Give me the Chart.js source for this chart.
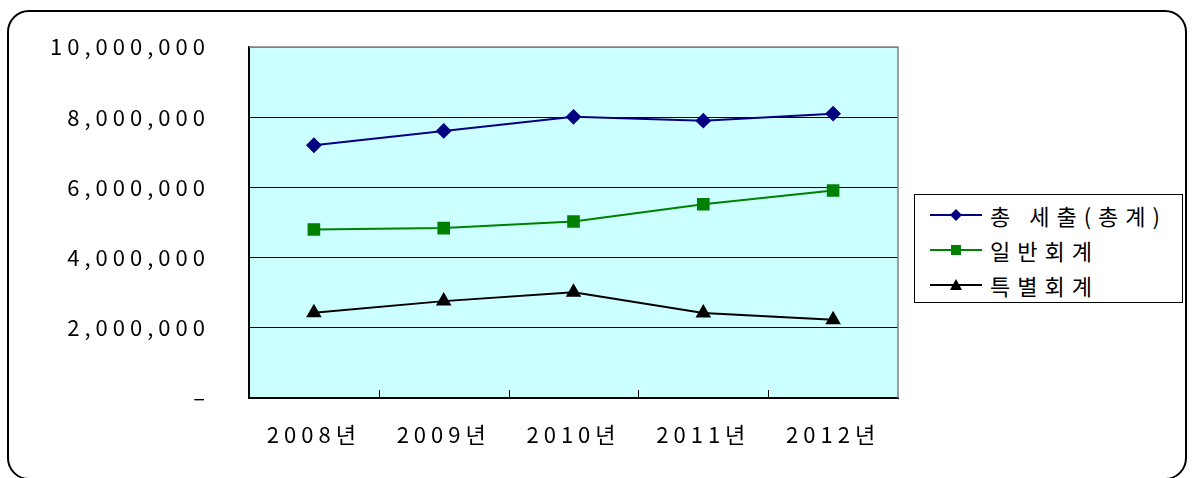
<!DOCTYPE html>
<html>
<head>
<meta charset="utf-8">
<script src="https://cdn.jsdelivr.net/npm/chart.js"></script>
<style>
body{margin:0;background:#fff;}
#wrap{position:relative;width:1195px;height:478px;overflow:hidden;}
#frame{position:absolute;left:7px;top:10px;width:1180px;height:470px;box-sizing:border-box;border:2px solid #000;border-radius:22px;pointer-events:none;}
#legend{position:absolute;left:914px;top:194px;width:269px;height:109px;box-sizing:border-box;border:1px solid #000;background:#fff;padding-top:2.5px;
font-family:"Noto Sans CJK KR",sans-serif;font-size:22px;letter-spacing:7px;color:#000;}
#legend .row{display:flex;align-items:center;height:35px;white-space:nowrap;}
#legend svg{flex-shrink:0;margin-left:15px;margin-right:8px;}
</style>
</head>
<body>
<div id="wrap">
<canvas id="chart" width="1195" height="478"></canvas>
<div id="frame"></div>
<div id="legend"></div>
</div>
<script>
// categories and series (원)
const years = ["2008년","2009년","2010년","2011년","2012년"];
const totalOut = [7200000, 7610000, 8010000, 7900000, 8100000];
const general = [4800000, 4840000, 5030000, 5520000, 5910000];
const special = [2430000, 2760000, 3010000, 2420000, 2230000];
const seriesNames = ["총 세출(총계)","일반회계","특별회계"];

const LS = "5px";
const FONT = '"Noto Sans CJK KR", sans-serif';

// plot background, gray top/right frame, inner category ticks
const plotStyle = {
id:"plotStyle",
beforeLayout(chart){ chart.ctx.letterSpacing = LS; },
beforeDraw(chart){
const {ctx, chartArea:a} = chart;
ctx.letterSpacing = LS;
ctx.save();
ctx.fillStyle = "#ccffff";
ctx.fillRect(a.left, a.top, a.right-a.left, a.bottom-a.top);
ctx.restore();
},
afterDraw(chart){
const {ctx, chartArea:a} = chart;
const xs = chart.scales.x;
ctx.save();
ctx.strokeStyle = "#808080";
ctx.lineWidth = 1.5;
ctx.beginPath();
ctx.moveTo(a.left, a.top); ctx.lineTo(a.right, a.top); ctx.lineTo(a.right, a.bottom);
ctx.stroke();
ctx.strokeStyle = "#000";
ctx.lineWidth = 1;
ctx.beginPath();
for(let i=1;i<years.length;i++){
const x = Math.round((xs.getPixelForTick(i-1)+xs.getPixelForTick(i))/2)+0.5;
ctx.moveTo(x, a.bottom); ctx.lineTo(x, a.bottom-8);
}
ctx.stroke();
ctx.restore();
}
};

// html legend built from the datasets
const htmlLegend = {
id:"htmlLegend",
afterUpdate(chart){
const box = document.getElementById("legend");
box.innerHTML = "";
chart.data.datasets.forEach(ds=>{
const c = ds.borderColor;
let mark = "";
if(ds.pointStyle==="rectRot") mark = `<polygon points="26,1 32,7 26,13 20,7" fill="${c}"/>`;
else if(ds.pointStyle==="rect") mark = `<rect x="21" y="2" width="10" height="10" fill="${c}"/>`;
else mark = `<polygon points="26,1 32,12 20,12" fill="${c}"/>`;
const row = document.createElement("div");
row.className = "row";
row.innerHTML = `<svg width="52" height="14"><line x1="0" y1="7" x2="52" y2="7" stroke="${c}" stroke-width="2"/>${mark}</svg><span>${ds.label}</span>`;
box.appendChild(row);
});
}
};

new Chart(document.getElementById("chart"),{
type:"line",
data:{
labels:years,
datasets:[
{label:seriesNames[0],data:totalOut,borderColor:"#000080",backgroundColor:"#000080",borderWidth:2,pointStyle:"rectRot",pointRadius:6.5,pointHoverRadius:6.5,tension:0},
{label:seriesNames[1],data:general,borderColor:"#008000",backgroundColor:"#008000",borderWidth:2,pointStyle:"rect",pointRadius:7.5,pointHoverRadius:7.5,tension:0},
{label:seriesNames[2],data:special,borderColor:"#000000",backgroundColor:"#000000",borderWidth:2,pointStyle:"triangle",pointRadius:7,pointHoverRadius:7,tension:0}
]
},
options:{
responsive:false,
animation:false,
events:[],
layout:{padding:{top:47,right:297,bottom:0,left:0}},
plugins:{
legend:{display:false},
tooltip:{enabled:false}
},
scales:{
x:{
offset:true,
grid:{drawOnChartArea:false,drawTicks:false},
border:{color:"#000",width:2},
ticks:{color:"#000",padding:23,font:{family:FONT,size:22}},
afterFit(s){ s.height = 80; }
},
y:{
min:0,max:10000000,
grid:{drawTicks:true,tickLength:39,tickColor:"rgba(0,0,0,0)",lineWidth:1,color:c=>c.tick.value===10000000?"#808080":"#000"},
border:{color:"#000",width:2},
ticks:{
stepSize:2000000,color:"#000",padding:0,font:{family:FONT,size:22},
callback:v=>v===0?"–":v.toLocaleString("en-US")
},
afterFit(s){ s.width = 249; }
}
}
},
plugins:[plotStyle,htmlLegend]
});
</script>
</body>
</html>
